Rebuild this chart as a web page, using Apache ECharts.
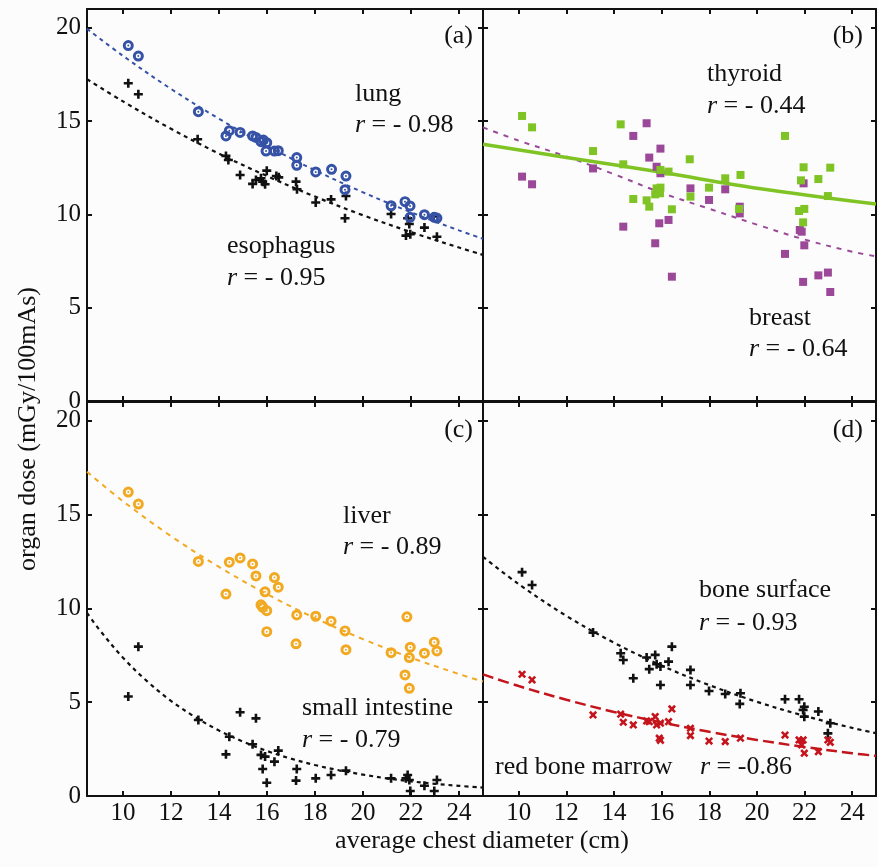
<!DOCTYPE html>
<html>
<head>
<meta charset="utf-8">
<script src="https://cdn.jsdelivr.net/npm/echarts@6/dist/echarts.min.js"></script>
<style>
  html, body { margin: 0; padding: 0; background: #fcfcfc; }
  #chart { width: 878px; height: 867px; }
</style>
</head>
<body>
<div id="chart"></div>
<script>
// ---- axis ticks ----
const xTicks = [10, 12, 14, 16, 18, 20, 22, 24];
const yTicks = [0, 5, 10, 15, 20];

// ---- (a) lung / esophagus: [chest diameter cm, dose mGy/100mAs] ----
const lung = [
  [10.22, 19.04], [10.64, 18.48], [13.14, 15.5], [14.29, 14.2], [14.43, 14.48],
  [14.88, 14.39], [15.4, 14.2], [15.54, 14.12], [15.75, 13.89], [15.85, 13.98],
  [15.99, 13.84], [15.96, 13.39], [16.31, 13.39], [16.47, 13.41], [17.24, 13.04],
  [17.24, 12.63], [18.03, 12.27], [18.69, 12.41], [19.29, 12.05], [19.25, 11.32],
  [21.17, 10.46], [21.75, 10.68], [21.96, 10.45], [21.96, 9.84], [22.56, 9.98],
  [22.97, 9.84], [23.08, 9.8]
];
const esophagus = [
  [10.22, 17.02], [10.64, 16.43], [13.11, 14.02], [14.29, 13.13], [14.39, 12.91],
  [14.88, 12.11], [15.4, 11.63], [15.54, 11.84], [15.75, 11.93], [15.82, 11.75],
  [15.92, 11.61], [15.99, 12.34], [16.39, 12.05], [16.49, 11.98], [17.21, 11.75],
  [17.25, 11.34], [18.03, 10.63], [18.67, 10.8], [19.29, 10.98], [19.25, 9.79],
  [21.17, 10.02], [21.86, 9.79], [21.93, 9.48], [21.79, 8.86], [21.97, 8.93],
  [22.56, 9.29], [23.08, 8.8], [22.94, 9.88]
];
const lungFit = [
  [8.5, 19.94], [10, 18.49], [12, 16.72], [14, 15.12], [16, 13.67], [18, 12.36],
  [20, 11.18], [22, 10.11], [24, 9.14], [25, 8.69]
];
const esophagusFit = [
  [8.5, 17.24], [10, 16.05], [12, 14.58], [14, 13.25], [16, 12.05], [18, 10.95],
  [20, 9.95], [22, 9.05], [24, 8.22], [25, 7.83]
];

// ---- (b) thyroid / breast ----
const thyroid = [
  [10.14, 15.27], [10.56, 14.66], [14.28, 14.82], [13.12, 13.39], [14.39, 12.68],
  [14.81, 10.82], [15.37, 10.75], [15.48, 10.41], [15.73, 11.07], [15.79, 11.39],
  [15.95, 11.43], [15.93, 11.13], [15.95, 12.38], [16.29, 12.29], [16.43, 10.27],
  [17.18, 12.95], [17.21, 10.95], [17.99, 11.43], [18.67, 11.93], [19.31, 12.11],
  [19.25, 10.29], [21.18, 14.2], [21.85, 11.82], [21.96, 12.52], [21.77, 10.18],
  [21.99, 10.29], [21.94, 9.57], [22.58, 11.89], [23.08, 12.5], [22.98, 10.98]
];
const breast = [
  [10.14, 12.02], [10.56, 11.61], [13.12, 12.46], [14.39, 9.34], [14.81, 14.2],
  [15.37, 14.88], [15.48, 13.04], [15.79, 12.55], [15.95, 13.52], [15.95, 12.2],
  [15.73, 8.45], [15.9, 9.52], [16.29, 9.7], [16.43, 6.66], [17.21, 11.39],
  [17.99, 10.77], [18.67, 11.34], [19.28, 10.41], [19.28, 10.05], [21.18, 7.88],
  [21.8, 9.16], [21.88, 9.07], [21.96, 11.66], [21.99, 8.34], [21.94, 6.38],
  [22.58, 6.73], [22.98, 6.88], [23.08, 5.84]
];
const thyroidFit = [[8.5, 13.75], [12, 13.05], [16, 12.25], [20, 11.4], [25, 10.55]];
const breastFit = [
  [8.5, 14.66], [10, 13.95], [12, 13.1], [14, 12.15], [16, 11.15], [18, 10.3],
  [20, 9.45], [22, 8.65], [24, 8.0], [25, 7.75]
];

// ---- (c) liver / small intestine ----
const liver = [
  [10.22, 16.2], [10.64, 15.56], [13.14, 12.5], [14.29, 10.76], [14.43, 12.46],
  [14.88, 12.69], [15.4, 12.37], [15.54, 11.73], [15.75, 10.19], [15.82, 10.06],
  [15.99, 9.88], [15.92, 10.88], [15.99, 8.76], [16.31, 11.64], [16.47, 11.13],
  [17.24, 9.65], [17.21, 8.11], [18.03, 9.58], [18.67, 9.32], [19.25, 8.8],
  [19.29, 7.8], [21.17, 7.64], [21.83, 9.55], [21.97, 7.93], [21.93, 7.38],
  [21.75, 6.45], [21.93, 5.74], [22.56, 7.61], [22.97, 8.2], [23.08, 7.73]
];
const smallIntestine = [
  [10.22, 5.3], [10.64, 7.96], [13.14, 4.05], [14.29, 2.22], [14.43, 3.16],
  [14.88, 4.46], [15.4, 2.76], [15.54, 4.14], [15.75, 2.19], [15.82, 1.44],
  [15.92, 2.1], [15.99, 0.71], [16.31, 1.83], [16.47, 2.42], [17.24, 1.44],
  [17.21, 0.82], [18.03, 0.94], [18.67, 1.12], [19.29, 1.35], [21.17, 0.94],
  [21.86, 1.12], [21.93, 0.85], [21.97, 0.27], [21.79, 0.94], [22.56, 0.55],
  [23.08, 0.85], [22.97, 0.27]
];
const liverFit = [
  [8.5, 17.28], [10, 15.71], [12, 13.85], [14, 12.21], [16, 10.76], [18, 9.48],
  [20, 8.36], [22, 7.37], [24, 6.5], [25, 6.1]
];
const smallIntestineFit = [
  [8.5, 9.76], [9, 8.89], [10, 7.37], [11, 6.12], [12, 5.07], [13, 4.21], [14, 3.49],
  [15, 2.9], [16, 2.4], [17, 1.99], [18, 1.65], [19, 1.37], [20, 1.14], [21, 0.94],
  [22, 0.78], [23, 0.65], [24, 0.54], [25, 0.45]
];

// ---- (d) bone surface / red bone marrow ----
const boneSurface = [
  [10.14, 11.93], [10.56, 11.25], [13.12, 8.71], [14.28, 7.61], [14.39, 7.25],
  [14.81, 6.28], [15.37, 7.38], [15.48, 6.76], [15.73, 7.52], [15.79, 7.02],
  [15.95, 6.9], [15.95, 5.92], [16.29, 7.16], [16.43, 7.96], [17.21, 6.72],
  [17.21, 5.92], [17.99, 5.6], [18.67, 5.44], [19.31, 5.48], [19.28, 4.91],
  [21.18, 5.16], [21.77, 5.16], [21.94, 4.59], [21.99, 4.76], [21.99, 4.23],
  [22.58, 4.5], [23.08, 3.88], [22.98, 3.34]
];
const redMarrow = [
  [10.14, 6.49], [10.56, 6.19], [13.12, 4.32], [14.28, 4.36], [14.39, 3.93],
  [14.81, 3.79], [15.37, 4.0], [15.48, 3.96], [15.73, 4.23], [15.79, 3.79],
  [15.95, 3.88], [15.9, 3.08], [15.95, 2.97], [16.29, 3.96], [16.43, 4.64],
  [17.21, 3.61], [17.21, 3.22], [17.99, 2.93], [18.67, 2.9], [19.31, 3.08],
  [21.18, 3.25], [21.77, 2.99], [21.88, 2.72], [21.94, 2.99], [21.99, 2.28],
  [22.58, 2.36], [22.98, 2.99], [23.08, 2.86]
];
const boneSurfaceFit = [
  [8.5, 12.75], [10, 11.29], [12, 9.6], [14, 8.17], [16, 6.95], [18, 5.91],
  [20, 5.02], [22, 4.27], [24, 3.63], [25, 3.35]
];
const redMarrowFit = [
  [8.5, 6.48], [10, 5.86], [12, 5.13], [14, 4.48], [16, 3.92], [18, 3.42],
  [20, 2.99], [22, 2.61], [24, 2.28], [25, 2.14]
];

// ---- styling ----
const FONT = "'Liberation Serif', 'DejaVu Serif', serif";
const INK = '#111';
const C_BLUE = '#3552a6';
const C_GREEN = '#7fc424';
const C_PURPLE = '#9a4897';
const C_ORANGE = '#f2a922';
const C_RED = '#c4141c';

// thick ring with a small centre dot
const RING = 'path://M0,-5A5,5 0 1,1 0,5A5,5 0 1,1 0,-5ZM0,-2.3A2.3,2.3 0 1,0 0,2.3A2.3,2.3 0 1,0 0,-2.3ZM0,-0.9A0.9,0.9 0 1,1 0,0.9A0.9,0.9 0 1,1 0,-0.9Z';
const PLUS = 'path://M-1.3,-4.5H1.3V-1.3H4.5V1.3H1.3V4.5H-1.3V1.3H-4.5V-1.3H-1.3Z';

const grids = [
  { left: 87, top: 9, width: 396, height: 392 },
  { left: 483, top: 9, width: 393, height: 392 },
  { left: 87, top: 402, width: 396, height: 394 },
  { left: 483, top: 402, width: 393, height: 394 }
];

const lineStyleAxis = { color: INK, width: 2 };

function xAxisFor(gridIndex, position, showLabels) {
  return {
    type: 'value', gridIndex, position, min: 8.5, max: 25,
    axisLine: { show: true, onZero: false, lineStyle: lineStyleAxis },
    axisTick: { show: true, inside: true, length: 5, customValues: xTicks, lineStyle: lineStyleAxis },
    axisLabel: { show: showLabels, customValues: xTicks, fontFamily: FONT, fontSize: 25, color: INK, margin: 5 },
    splitLine: { show: false }
  };
}
function yAxisFor(gridIndex, position, showLabels) {
  return {
    type: 'value', gridIndex, position, min: 0, max: 21,
    axisLine: { show: true, onZero: false, lineStyle: lineStyleAxis },
    axisTick: { show: true, inside: true, length: 5, customValues: yTicks, lineStyle: lineStyleAxis },
    axisLabel: { show: showLabels, customValues: yTicks, fontFamily: FONT, fontSize: 25, color: INK, margin: 6 },
    splitLine: { show: false }
  };
}

const xAxes = [];
const yAxes = [];
grids.forEach((g, i) => {
  const bottomRow = i >= 2;
  const leftCol = i % 2 === 0;
  xAxes.push(xAxisFor(i, 'bottom', bottomRow));   // index 2*i
  xAxes.push(xAxisFor(i, 'top', false));          // index 2*i+1
  yAxes.push(yAxisFor(i, 'left', leftCol));        // index 2*i
  yAxes.push(yAxisFor(i, 'right', false));         // index 2*i+1
});

function fitLine(panel, data, color, width, dash) {
  return {
    type: 'line', xAxisIndex: 2 * panel, yAxisIndex: 2 * panel, data,
    smooth: 0.35, showSymbol: false, silent: true, z: 2,
    lineStyle: { color, width, type: dash }
  };
}
function points(panel, data, symbol, size, color, extra) {
  return Object.assign({
    type: 'scatter', xAxisIndex: 2 * panel, yAxisIndex: 2 * panel, data,
    symbol, symbolSize: size, itemStyle: { color, opacity: 1 }, z: 3
  }, extra || {});
}

const series = [
  fitLine(0, lungFit, C_BLUE, 2, [4, 4]),
  fitLine(0, esophagusFit, INK, 2.2, [4, 4]),
  points(0, esophagus, PLUS, 9, INK),
  points(0, lung, RING, 11, C_BLUE),

  fitLine(1, breastFit, C_PURPLE, 2, [5, 6]),
  fitLine(1, thyroidFit, C_GREEN, 3.5, 'solid'),
  points(1, breast, 'rect', 8, C_PURPLE),
  points(1, thyroid, 'rect', 8, C_GREEN),

  fitLine(2, liverFit, C_ORANGE, 2, [5, 5]),
  fitLine(2, smallIntestineFit, INK, 2.2, [4, 4]),
  points(2, smallIntestine, PLUS, 9, INK),
  points(2, liver, RING, 11, C_ORANGE),

  fitLine(3, boneSurfaceFit, INK, 2.2, [4, 4]),
  fitLine(3, redMarrowFit, C_RED, 2.5, [11, 5]),
  points(3, boneSurface, PLUS, 9, INK),
  points(3, redMarrow, PLUS, 9, C_RED, { symbolRotate: 45 })
];

// text helpers: (x, baseline) placement
function label(text, x, baseline, align) {
  return {
    type: 'text', z: 10,
    style: {
      text, x, y: baseline - 9, fill: INK,
      font: '26px ' + FONT, textAlign: align || 'left', textVerticalAlign: 'middle',
      rich: { i: { fontStyle: 'italic', fontFamily: FONT, fontSize: 26, fill: INK } }
    }
  };
}

const graphics = [
  label('(a)', 473, 45, 'right'),
  label('(b)', 863, 45, 'right'),
  label('(c)', 473, 439, 'right'),
  label('(d)', 863, 439, 'right'),

  label('lung', 355, 103),
  label('{i|r} = - 0.98', 355, 134),
  label('esophagus', 227, 255),
  label('{i|r} = - 0.95', 227, 287),

  label('thyroid', 707, 83),
  label('{i|r} = - 0.44', 707, 115),
  label('breast', 749, 327),
  label('{i|r} = - 0.64', 749, 358),

  label('liver', 343, 525),
  label('{i|r} = - 0.89', 343, 556),
  label('small intestine', 302, 717),
  label('{i|r} = - 0.79', 302, 749),

  label('bone surface', 699, 599),
  label('{i|r} = - 0.93', 699, 632),
  label('red bone marrow', 495, 776),
  label('{i|r} = -0.86', 700, 776),

  label('average chest diameter (cm)', 482, 850, 'center'),
  {
    type: 'text', z: 10, x: 28, y: 429, rotation: Math.PI / 2,
    style: {
      text: 'organ dose (mGy/100mAs)', x: 0, y: 0, fill: INK,
      font: '26px ' + FONT, textAlign: 'center', textVerticalAlign: 'middle'
    }
  }
];

const chart = echarts.init(document.getElementById('chart'), null, { renderer: 'canvas' });
chart.setOption({
  backgroundColor: '#fcfcfc',
  animation: false,
  grid: grids,
  xAxis: xAxes,
  yAxis: yAxes,
  series,
  graphic: graphics
});
</script>
</body>
</html>
